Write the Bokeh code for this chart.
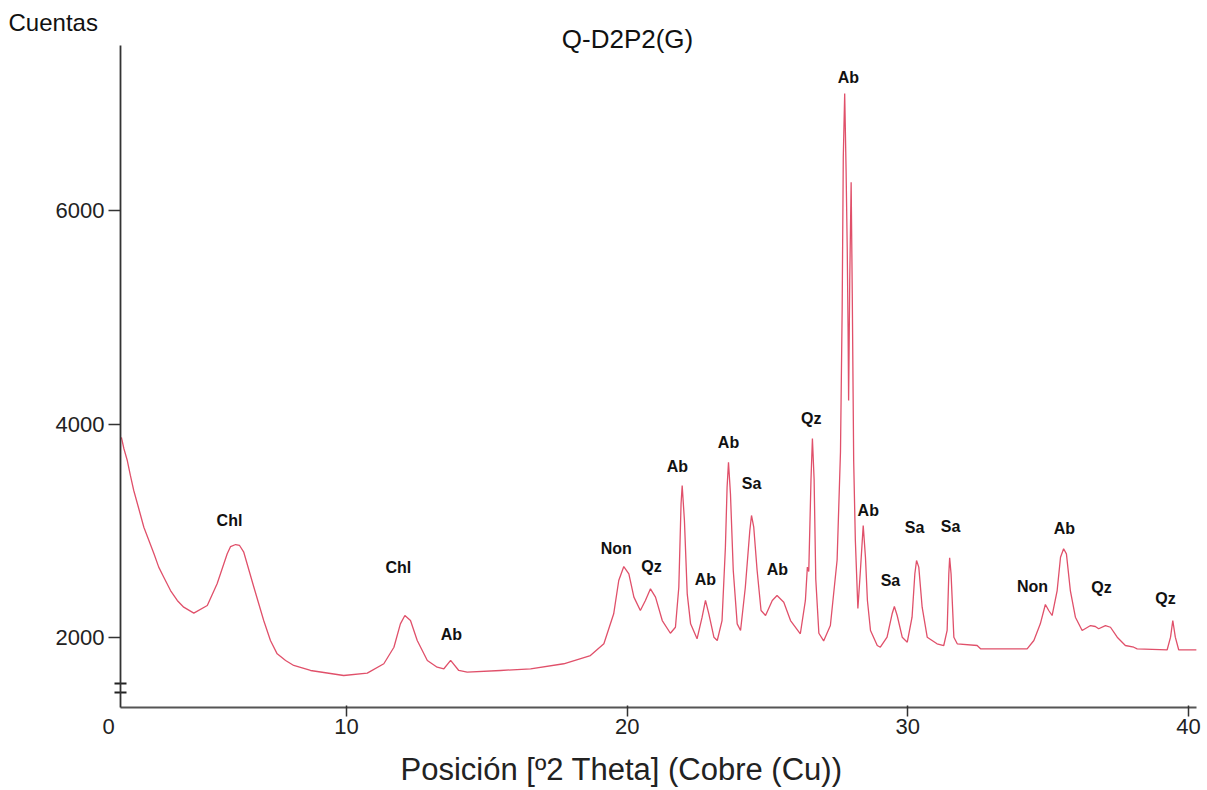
from bokeh.plotting import figure
from bokeh.models import Range1d, FixedTicker
from bokeh.core.properties import value
from bokeh.embed import file_html
from bokeh.resources import INLINE

# ---- data ----
two_theta = [
    1.98, 2.07, 2.19, 2.30, 2.42, 2.60, 2.78, 2.96, 3.14, 3.31, 3.49, 3.73, 3.97,
    4.20, 4.56, 5.04, 5.39, 5.75, 5.87, 6.05, 6.19, 6.34, 6.70, 7.05, 7.29, 7.53,
    7.83, 8.12, 8.72, 9.90, 10.74, 11.33, 11.69, 11.92, 12.08, 12.28,
    12.52, 12.88, 13.23, 13.47, 13.71, 14.00, 14.30, 15.49, 16.56, 17.74, 18.69,
    19.17, 19.52, 19.70, 19.88, 20.06, 20.24, 20.47, 20.65, 20.83, 21.01, 21.25,
    21.54, 21.72, 21.84, 21.92, 21.96, 22.04, 22.14, 22.26, 22.49, 22.67, 22.79,
    22.91, 23.09, 23.21, 23.38, 23.50, 23.56, 23.61, 23.68, 23.78, 23.92, 24.04,
    24.21, 24.37, 24.43, 24.51, 24.63, 24.77, 24.93, 25.17, 25.34, 25.58, 25.82,
    26.17, 26.35, 26.42, 26.47, 26.55, 26.60, 26.66, 26.72, 26.83, 27.00, 27.24,
    27.48, 27.60, 27.66, 27.70, 27.75, 27.80, 27.84, 27.87, 27.89, 27.93, 27.98,
    28.02, 28.05, 28.07, 28.13, 28.22, 28.31, 28.41, 28.49, 28.56, 28.67, 28.91,
    29.02, 29.26, 29.44, 29.52, 29.62, 29.80, 29.98, 30.15, 30.25, 30.31, 30.39,
    30.51, 30.69, 31.04, 31.28, 31.40, 31.46, 31.49, 31.54, 31.64, 31.76, 32.47,
    32.59, 34.25, 34.49, 34.72, 34.90, 35.02, 35.14, 35.32, 35.44, 35.55, 35.65,
    35.79, 35.97, 36.21, 36.51, 36.68, 36.80, 37.04, 37.22, 37.46, 37.75, 38.05,
    38.17, 39.24, 39.36, 39.44, 39.53, 39.65, 40.28,
]
counts = [
    3874, 3768, 3658, 3518, 3377, 3206, 3033, 2909, 2784, 2659, 2565, 2440, 2347,
    2284, 2228, 2300, 2503, 2784, 2852, 2871, 2862, 2799, 2471, 2159, 1972, 1847,
    1785, 1738, 1691, 1644, 1666, 1754, 1909, 2128, 2206, 2159,
    1972, 1785, 1722, 1707, 1785, 1691, 1675, 1691, 1707, 1754, 1831,
    1941, 2222, 2534, 2665, 2597, 2378, 2253, 2347, 2456, 2378, 2159,
    2040, 2096, 2471, 3253, 3424, 3096, 2409, 2128, 1988, 2190, 2347,
    2222, 2003, 1972, 2159, 2846, 3408, 3642, 3346, 2628, 2128, 2066,
    2471, 3002, 3143, 3033, 2628, 2253, 2206, 2347, 2393, 2331, 2159,
    2035, 2347, 2659, 2618, 3485, 3864, 3485, 2546, 2040, 1968, 2112,
    2726, 3738, 5074, 6499, 7096, 6375, 5656, 4907, 4220, 5344, 6265,
    5220, 4283, 3658, 2909, 2272, 2628, 3049, 2752, 2347, 2066, 1925,
    1909, 2003, 2222, 2290, 2206, 2003, 1956, 2190, 2597, 2721, 2659,
    2284, 2003, 1941, 1925, 2066, 2597, 2747, 2597, 2003, 1941, 1925,
    1894, 1894, 1972, 2128, 2309, 2253, 2206, 2440, 2752, 2831, 2784,
    2440, 2190, 2066, 2112, 2103, 2082, 2112, 2096, 2003, 1925, 1909,
    1894, 1885, 2003, 2159, 2003, 1885, 1885,
]

# phase labels
peak_names = ["Chl", "Chl", "Ab", "Non", "Qz", "Ab", "Ab", "Ab", "Sa", "Ab", "Qz",
              "Ab", "Ab", "Sa", "Sa", "Sa", "Non", "Ab", "Qz", "Qz"]
peak_x = [5.83, 11.85, 13.74, 19.61, 20.87, 21.79, 22.79, 23.61, 24.43, 25.35, 26.56,
          27.88, 28.59, 29.38, 30.24, 31.52, 34.44, 35.58, 36.90, 39.18]
peak_y = [3096, 2656, 2028, 2834, 2665, 3602, 2543, 3827, 3443, 2637, 4052,
          7246, 3190, 2534, 3030, 3040, 2478, 3021, 2468, 2365]

x_ticks = [10, 20, 30, 40]
y_ticks = [2000, 4000, 6000]
x_axis_bounds = (1.95, 40.28)
y_axis_bounds = (1344, 7546)

title_text = "Q-D2P2(G)"
x_label = "Posición [º2 Theta] (Cobre (Cu))"
y_label = "Cuentas"
origin_label = "0"

FONT = "Liberation Sans"
LINE = "#e0506a"

# ---- layout: the frame fills the canvas, axes are pinned with fixed_location ----
W, H = 1205, 788
X0_PX, X_PX_PER_UNIT = 65.33, 28.067     # page x of 0 deg, px per degree
Y2000_PX, Y_PX_PER_UNIT = 637.0, 0.10675  # page y of 2000 counts, px per count


def xd(px):
    return (px - X0_PX) / X_PX_PER_UNIT


def yd(py):
    return 2000 + (Y2000_PX - py) / Y_PX_PER_UNIT


p = figure(width=W, height=H, output_backend="svg", toolbar_location=None,
           title=None, x_range=Range1d(xd(0), xd(W)), y_range=Range1d(yd(H), yd(0)),
           min_border=0, min_border_left=0, min_border_right=0,
           min_border_top=0, min_border_bottom=0)
p.outline_line_color = None
p.grid.visible = False
p.background_fill_color = "white"
p.border_fill_color = "white"

p.line(two_theta, counts, line_color=LINE, line_width=1.3)

p.text(x=peak_x, y=peak_y, text=peak_names, text_font=value(FONT),
       text_font_style="bold", text_font_size="16px", text_color="#111111",
       text_align="center", text_baseline="middle")

for ax in (p.xaxis, p.yaxis):
    ax.axis_line_color = "#333333"
    ax.axis_line_width = 1.8
    ax.major_tick_line_color = "#333333"
    ax.major_tick_line_width = 1.5
    ax.minor_tick_line_color = None
    ax.major_label_text_font = FONT
    ax.major_label_text_font_size = "22px"
    ax.major_label_text_color = "#222222"

p.xaxis.ticker = FixedTicker(ticks=x_ticks)
p.xaxis.fixed_location = y_axis_bounds[0]
p.xaxis.bounds = x_axis_bounds
p.xaxis.major_tick_out = 9
p.xaxis.major_tick_in = 2
p.xaxis.major_label_standoff = 2
p.xaxis.axis_line_color = "#555555"
p.xaxis.axis_line_width = 2.2

p.yaxis.ticker = FixedTicker(ticks=y_ticks)
p.yaxis.fixed_location = x_axis_bounds[0]
p.yaxis.bounds = y_axis_bounds
p.yaxis.major_tick_out = 12
p.yaxis.major_tick_in = 0
p.yaxis.major_label_standoff = 4

# axis-break marks on the y axis
p.segment(x0=[xd(114), xd(114)], y0=[yd(683), yd(692)],
          x1=[xd(126), xd(126)], y1=[yd(683), yd(692)],
          line_color="#222222", line_width=2)


def label(text, px, py, size, align="left", color="#111111"):
    p.text(x=[xd(px)], y=[yd(py)], text=[text], text_font=value(FONT),
           text_font_size=size, text_align=align, text_baseline="middle",
           text_color=color)


label(y_label, 8, 22, "24px")
label(title_text, 627, 38.5, "26px", align="center")
label(x_label, 621, 768.5, "31px", align="center", color="#222222")
label(origin_label, 108, 725.5, "22px", align="center", color="#222222")

open("out.html", "w").write(file_html(p, INLINE))
